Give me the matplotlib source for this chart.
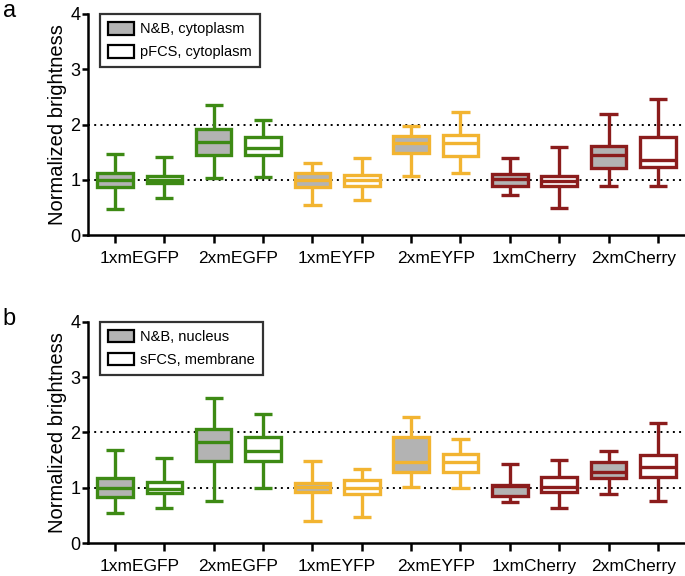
import matplotlib
matplotlib.use("Agg")
import matplotlib.pyplot as plt
from matplotlib.patches import Patch

plt.rcParams['font.family'] = ['Liberation Sans', 'DejaVu Sans']

# --- DATA ---
constructs = ['1xmEGFP', '2xmEGFP', '1xmEYFP', '2xmEYFP', '1xmCherry', '2xmCherry']
construct_colors = ['#3d8a14', '#3d8a14', '#f2b431', '#f2b431', '#8b1c1c', '#8b1c1c']

# panel a: N&B cytoplasm (grey) / pFCS cytoplasm (white)
# each entry: whisker low, q1, median, q3, whisker high
a_grey_lo = [0.47, 1.04, 0.55, 1.07, 0.72, 0.90]
a_grey_q1 = [0.88, 1.46, 0.88, 1.48, 0.90, 1.22]
a_grey_med = [1.00, 1.68, 1.00, 1.66, 1.01, 1.45]
a_grey_q3 = [1.12, 1.93, 1.13, 1.79, 1.11, 1.61]
a_grey_hi = [1.47, 2.36, 1.30, 1.98, 1.39, 2.19]

a_white_lo = [0.67, 1.06, 0.63, 1.12, 0.49, 0.90]
a_white_q1 = [0.94, 1.45, 0.89, 1.43, 0.90, 1.24]
a_white_med = [1.00, 1.57, 1.00, 1.66, 0.98, 1.37]
a_white_q3 = [1.08, 1.78, 1.09, 1.81, 1.08, 1.78]
a_white_hi = [1.42, 2.09, 1.40, 2.23, 1.60, 2.46]

# panel b: N&B nucleus (grey) / sFCS membrane (white)
b_grey_lo = [0.55, 0.76, 0.40, 1.02, 0.75, 0.89]
b_grey_q1 = [0.83, 1.49, 0.93, 1.28, 0.85, 1.17]
b_grey_med = [1.00, 1.82, 1.02, 1.47, 1.04, 1.29]
b_grey_q3 = [1.18, 2.06, 1.09, 1.92, 1.05, 1.46]
b_grey_hi = [1.68, 2.62, 1.49, 2.28, 1.43, 1.67]

b_white_lo = [0.63, 1.00, 0.47, 0.99, 0.63, 0.77]
b_white_q1 = [0.90, 1.49, 0.89, 1.29, 0.92, 1.20]
b_white_med = [0.98, 1.66, 1.00, 1.47, 1.01, 1.37]
b_white_q3 = [1.11, 1.92, 1.14, 1.61, 1.20, 1.59]
b_white_hi = [1.54, 2.34, 1.34, 1.89, 1.50, 2.18]

panel_letters = ['a', 'b']
legend_labels = [['N&B, cytoplasm', 'pFCS, cytoplasm'],
                 ['N&B, nucleus', 'sFCS, membrane']]

GREY = '#b3b3b3'


def make_stats(lo, q1, med, q3, hi):
    return [dict(whislo=l, q1=a, med=m, q3=b, whishi=h, fliers=[])
            for l, a, m, b, h in zip(lo, q1, med, q3, hi)]


def draw_panel(ax, grey_stats, white_stats, labels, letter):
    # reference lines at 1x and 2x
    for yv in [1, 2]:
        ax.axhline(yv, color='black', linestyle=(0, (1, 2.2)), linewidth=1.4, zorder=1)

    for i, color in enumerate(construct_colors):
        for j, (stats, fill) in enumerate([(grey_stats, GREY), (white_stats, 'white')]):
            pos = 2 * i + 1 + j
            bp = ax.bxp([stats[i]], positions=[pos], widths=0.72, capwidths=0.37,
                        patch_artist=True, showfliers=False, manage_ticks=False)
            for box in bp['boxes']:
                box.set_facecolor(fill)
                box.set_edgecolor(color)
                box.set_linewidth(2.4)
                box.set_zorder(3)
            for key in ['whiskers', 'caps', 'medians']:
                for ln in bp[key]:
                    ln.set_color(color)
                    ln.set_linewidth(2.4)
                    ln.set_zorder(3)
                    ln.set_solid_capstyle('butt')

    ax.set_xlim(0.453, 12.55)
    ax.set_ylim(0, 4)
    ax.set_yticks([0, 1, 2, 3, 4])
    ax.set_xticks(range(1, 13))
    ax.set_xticklabels([''] * 12)
    ax.set_xticks([2 * i + 1.5 for i in range(6)], minor=True)
    ax.set_xticklabels(constructs, minor=True)
    ax.tick_params(axis='x', which='minor', length=0, pad=11, labelsize=12.5)
    ax.tick_params(axis='x', which='major', length=6, width=1.8)
    ax.tick_params(axis='y', length=4.5, width=1.8, labelsize=13, pad=1)
    for s in ['top', 'right']:
        ax.spines[s].set_visible(False)
    for s in ['left', 'bottom']:
        ax.spines[s].set_linewidth(1.8)
    ax.set_ylabel('Normalized brightness', fontsize=14.5)
    ax.yaxis.set_label_coords(-0.035, 0.5)

    handles = [Patch(facecolor=GREY, edgecolor='black', linewidth=1.6),
               Patch(facecolor='white', edgecolor='black', linewidth=1.6)]
    leg = ax.legend(handles, labels, loc='upper left', bbox_to_anchor=(0.02, 1.0),
                    borderaxespad=0, fancybox=False, fontsize=10.5,
                    handlelength=1.78, handleheight=0.96, handletextpad=0.4,
                    borderpad=0.55, labelspacing=0.6)
    leg.get_frame().set_edgecolor('black')
    leg.get_frame().set_linewidth(1.6)
    leg.set_zorder(5)

    ax.text(-0.143, 0.986, letter, transform=ax.transAxes, fontsize=17,
            ha='left', va='baseline')


fig = plt.figure(figsize=(6.85, 5.76), dpi=100)
ax_a = fig.add_axes([0.1285, 0.5915, 0.8715, 0.3842])
ax_b = fig.add_axes([0.1285, 0.0568, 0.8715, 0.3847])

draw_panel(ax_a, make_stats(a_grey_lo, a_grey_q1, a_grey_med, a_grey_q3, a_grey_hi),
           make_stats(a_white_lo, a_white_q1, a_white_med, a_white_q3, a_white_hi),
           legend_labels[0], panel_letters[0])
draw_panel(ax_b, make_stats(b_grey_lo, b_grey_q1, b_grey_med, b_grey_q3, b_grey_hi),
           make_stats(b_white_lo, b_white_q1, b_white_med, b_white_q3, b_white_hi),
           legend_labels[1], panel_letters[1])

fig.savefig('out.png', dpi=100)
